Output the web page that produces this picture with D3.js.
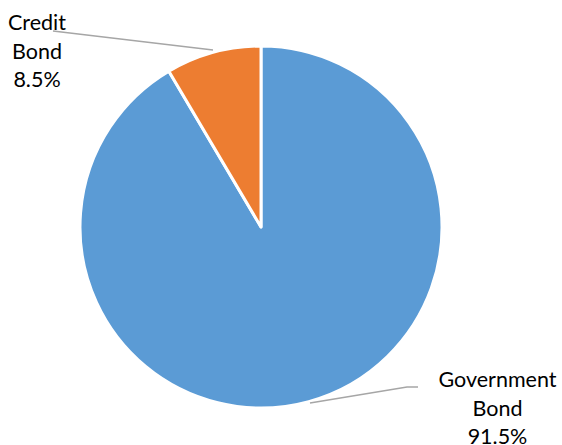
<!DOCTYPE html>
<html><head><meta charset="utf-8">
<script src="https://cdn.jsdelivr.net/npm/d3@7"></script>
<style>body{margin:0;background:#fff}svg{display:block}</style>
</head><body>
<script>
const categories = ["Government Bond", "Credit Bond"];
const values = [91.5, 8.5];
const labelLines = [["Government", "Bond", "91.5%"], ["Credit", "Bond", "8.5%"]];
const colors = ["#5B9BD5", "#ED7D31"];

const W = 562, H = 445, cx = 261, cy = 227, R = 181;
const svg = d3.select("body").append("svg").attr("width", W).attr("height", H);
const g = svg.append("g").attr("transform", `translate(${cx},${cy})`);
const pie = d3.pie().sort(null).value(d => d)(values);
const arc = d3.arc().innerRadius(0).outerRadius(R);
g.selectAll("path.slice").data(pie).join("path")
  .attr("d", arc).attr("fill", (d, i) => colors[i])
  .attr("stroke", "#fff").attr("stroke-width", 3).attr("stroke-linejoin", "round");

// leader lines
const leaders = [
  [[310, 403], [407, 387], [418, 387]],
  [[213, 50], [53, 31]]
];
svg.selectAll("polyline").data(leaders).join("polyline")
  .attr("points", d => d.map(p => p.join(",")).join(" "))
  .attr("fill", "none").attr("stroke", "#A6A6A6").attr("stroke-width", 1.5);

const labelPos = [[497.5, 387], [37, 30]];
labelLines.forEach((lines, i) => {
  const t = svg.append("text").attr("text-anchor", "middle")
    .attr("font-family", "Lato, 'Open Sans', sans-serif").attr("font-size", 21.5).attr("fill", "#000");
  lines.forEach((s, j) => t.append("tspan").attr("x", labelPos[i][0]).attr("y", labelPos[i][1] + j * 28.5).text(s));
});
</script>
</body></html>
